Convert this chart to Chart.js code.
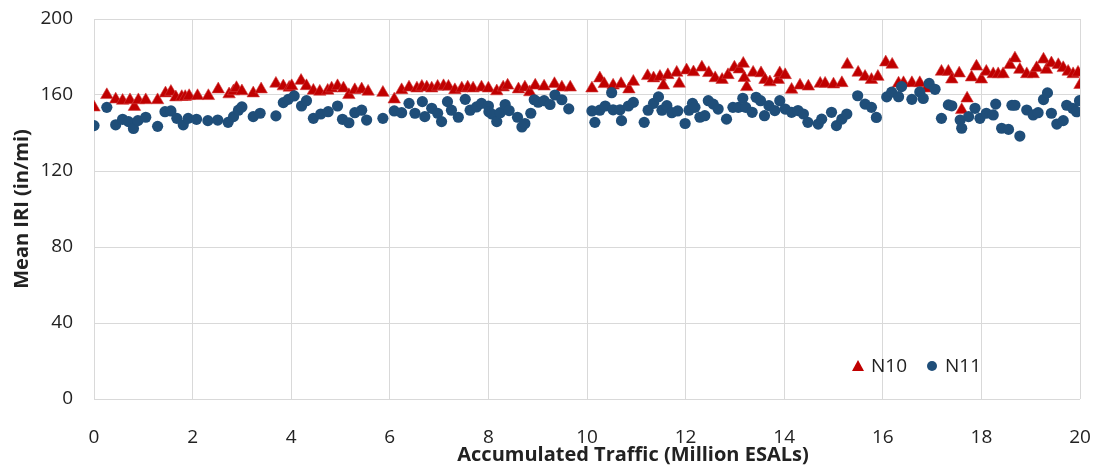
<!DOCTYPE html>
<html lang="en">
<head>
    <meta charset="UTF-8">
    <title>Mean IRI vs Accumulated Traffic</title>
    <script src="https://cdn.jsdelivr.net/npm/chart.js"></script>
    <style>
        body {
            margin: 0;
            background-color: white;
        }
        .chart-box {
            width: 1095px;
            height: 466px;
        }
    </style>
</head>
<body>
    <div class="chart-box">
        <canvas id="iriChart" width="1095" height="466"></canvas>
    </div>
    <script>
        // N10 section (triangles)
        const n10X = [0.00, 0.26, 0.44, 0.58, 0.73, 0.82, 0.90, 1.05, 1.29, 1.45, 1.56, 1.66, 1.78, 1.85, 1.93, 2.10, 2.32, 2.52, 2.74, 2.83, 2.89, 3.00, 3.23, 3.39, 3.69, 3.84, 3.96,
            4.01, 4.20, 4.31, 4.45, 4.58, 4.74, 4.82, 4.94, 5.06, 5.17, 5.29, 5.43, 5.56, 5.86, 6.09, 6.24, 6.39, 6.55, 6.65, 6.75, 6.85, 6.97, 7.09, 7.19, 7.32, 7.46, 7.58, 7.69, 7.86,
            8.00, 8.17, 8.30, 8.39, 8.61, 8.74, 8.84, 8.95, 9.13, 9.34, 9.49, 9.66, 10.10, 10.26, 10.35, 10.53, 10.69, 10.85, 10.94, 11.23, 11.35, 11.48, 11.55, 11.64, 11.82, 11.87,
            12.02, 12.16, 12.33, 12.47, 12.60, 12.74, 12.86, 12.99, 13.09, 13.17, 13.19, 13.24, 13.37, 13.53, 13.61, 13.71, 13.88, 13.91, 14.02, 14.15, 14.32, 14.49, 14.73, 14.83,
            15.00, 15.17, 15.28, 15.50, 15.64, 15.77, 15.90, 16.06, 16.19, 16.32, 16.42, 16.59, 16.75, 16.89, 17.19, 17.33, 17.40, 17.55, 17.60, 17.71, 17.80, 17.90,
            18.00, 18.10, 18.24, 18.34, 18.44, 18.58, 18.68, 18.78, 18.92, 19.05, 19.12, 19.26, 19.32, 19.42, 19.56, 19.66, 19.76, 19.86, 19.96, 20.00];
        const n10Y = [153.5, 160, 157.7, 157, 157.3, 153.8, 157.3, 157.3, 157.3, 160.9, 161.7, 158.8, 159, 159, 159.5, 159.5, 159.5, 163, 160.4, 162, 163.7, 162, 160.9, 163, 166, 164.6, 163.9,
            164.7, 167.5, 164.7, 162.3, 161.8, 162.3, 163.5, 164.7, 163.5, 160, 162.6, 163, 161.8, 161.2, 157.7, 162.6, 164, 163.5, 164.4, 164, 163.5, 164.4, 164.7, 164.4, 162.6, 163.5, 164, 163.5, 164,
            163.5, 162, 164, 165, 163, 164, 161.5, 165, 164.5, 165.8, 164, 164, 163.5, 168.8, 165.8, 165, 165.8, 163, 167, 170, 168.8, 169.6, 165, 170.5, 171.8, 166,
            173, 172, 174.5, 171.6, 168.9, 168, 170.5, 174.5, 173.5, 176.5, 169, 164.2, 171.8, 171.5, 168, 166.7, 168, 171.5, 170.5, 162.8, 165, 164.5, 166, 166,
            165.6, 166.3, 176, 171.8, 169.6, 168, 169.6, 177.2, 176, 166.1, 166.3, 166.3, 166.3, 163.5, 172.3, 172.3, 168.2, 171.4, 152.1, 158.2, 169.3, 175,
            168.2, 172.3, 171, 171, 171, 175.8, 179.3, 173.3, 171, 171, 174.2, 178.7, 173.3, 176.7, 175.8, 174.2, 172.3, 171, 171.8, 165.3];

        // N11 section (circles)
        const n11X = [0.00, 0.26, 0.44, 0.58, 0.70, 0.80, 0.89, 1.05, 1.29, 1.44, 1.56, 1.68, 1.81, 1.91, 2.08, 2.31, 2.51, 2.72, 2.83, 2.93, 3.00, 3.23, 3.37, 3.69, 3.84, 3.94,
            4.06, 4.21, 4.31, 4.45, 4.60, 4.75, 4.94, 5.04, 5.17, 5.29, 5.43, 5.53, 5.86, 6.09, 6.24, 6.39, 6.51, 6.66, 6.71, 6.85, 6.97, 7.05, 7.17, 7.25, 7.39, 7.53, 7.63, 7.76, 7.86,
            8.00, 8.01, 8.07, 8.17, 8.24, 8.34, 8.42, 8.59, 8.68, 8.74, 8.86, 8.93, 9.01, 9.13, 9.25, 9.35, 9.49, 9.63, 10.10, 10.16, 10.26, 10.37, 10.50, 10.53, 10.67, 10.70, 10.84, 10.94,
            11.16, 11.24, 11.35, 11.45, 11.52, 11.62, 11.72, 11.84, 11.99, 12.07, 12.14, 12.19, 12.29, 12.39, 12.46, 12.56, 12.66, 12.83, 12.96, 13.07, 13.16, 13.22, 13.35, 13.43, 13.52,
            13.60, 13.69, 13.81, 13.91, 14.02, 14.15, 14.28, 14.39, 14.48, 14.69, 14.76, 14.96, 15.06, 15.17, 15.27, 15.49, 15.64, 15.77, 15.87, 16.08, 16.18, 16.32, 16.38, 16.59,
            16.75, 16.82, 16.94, 17.06, 17.19, 17.33, 17.40, 17.57, 17.60, 17.74, 17.87, 17.97, 18.10, 18.24, 18.29, 18.41, 18.55, 18.62, 18.68, 18.78, 18.92, 19.05, 19.15, 19.26,
            19.34, 19.42, 19.53, 19.66, 19.73, 19.85, 19.93, 19.99];
        const n11Y = [143.9, 153.5, 144.3, 147.2, 146, 142.4, 146.5, 148.3, 143.5, 151.2, 151.6, 147.7, 144.3, 147.7, 147.2, 146.5, 146.8, 145.6, 148.6, 152, 153.7, 148.6, 150.4, 149, 156, 157.7,
            159.5, 154.2, 157, 147.7, 150, 151.2, 154.2, 147.2, 145.4, 150.7, 152, 146.8, 147.7, 151.6, 150.7, 155.6, 150.4, 156.5, 148.6, 153, 150.4, 146, 156.5, 152, 148.3, 157.7, 152, 153.7, 155.6,
            154.2, 151.2, 150, 146, 150.7, 155, 151.8, 148.3, 143.2, 145, 150.4, 157.5, 156.2, 157, 155, 160, 157.5, 152.7, 151.6, 145.6, 152, 154.2, 161.2, 152.2, 152.2, 146.5, 154.2, 156.1,
            145.6, 152, 155.6, 159, 152, 154.4, 150.7, 151.6, 145, 152, 155.6, 153.5, 148.3, 149.1, 157, 155.2, 152.6, 147.3, 153.5, 153.5, 158.3, 153.5, 150.9, 158.8, 157,
            149.1, 154.4, 151.8, 157, 152.6, 150.9, 151.8, 150, 145.6, 144.7, 147.3, 150.9, 143.9, 147.3, 150, 159.6, 155.2, 153.5, 148.2, 159, 161.5, 159.1, 164.4, 157.7,
            161.6, 158.2, 166.1, 163, 147.7, 154.8, 154.3, 146.8, 142.5, 148.6, 153, 147.7, 150.4, 149.5, 155.2, 142.5, 141.9, 154.6, 154.6, 138.4, 152.1, 149.5, 150.7, 157.6,
            161.1, 150.4, 144.7, 146.5, 154.6, 153, 151.2, 157];

        const xTicks = [0, 2, 4, 6, 8, 10, 12, 14, 16, 18, 20];
        const yTicks = [0, 40, 80, 120, 160, 200];
        const xTitle = 'Accumulated Traffic (Million ESALs)';
        const yTitle = 'Mean IRI (in/mi)';

        const red = '#C00000';
        const blue = '#1F4E79';
        const gridColor = '#D9D9D9';
        const tickFont = { family: 'Open Sans', size: 19 };
        const titleFont = { family: 'Open Sans', size: 20, weight: 'bold', lineHeight: 1.1 };

        function toPoints(xs, ys) {
            return xs.map((x, i) => ({ x: x, y: ys[i] }));
        }

        // legend inside the plot (lower right) + the x title, which sits a bit right of centre
        const extras = {
            id: 'extras',
            afterDraw(chart) {
                const ctx = chart.ctx;
                const area = chart.chartArea;
                ctx.save();
                ctx.textBaseline = 'middle';
                ctx.fillStyle = '#222';
                ctx.font = 'bold 20px "Open Sans"';
                ctx.textAlign = 'center';
                ctx.fillText(xTitle, (area.left + area.right) / 2 + 46, chart.height - 11);

                const y = area.bottom - 33;
                let x = area.right - 222;
                ctx.font = '19px "Open Sans"';
                ctx.textAlign = 'left';
                chart.data.datasets.slice().reverse().forEach(ds => {
                    ctx.fillStyle = ds.backgroundColor;
                    ctx.beginPath();
                    if (ds.pointStyle === 'triangle') {
                        ctx.moveTo(x, y - 6);
                        ctx.lineTo(x + 6, y + 5);
                        ctx.lineTo(x - 6, y + 5);
                        ctx.closePath();
                    } else {
                        ctx.arc(x, y, 5, 0, Math.PI * 2);
                    }
                    ctx.fill();
                    ctx.fillStyle = '#222';
                    ctx.fillText(ds.label, x + 13, y + 1);
                    x += 74;
                });
                ctx.restore();
            }
        };

        new Chart(document.getElementById('iriChart'), {
            type: 'scatter',
            data: {
                datasets: [{
                    label: 'N11',
                    data: toPoints(n11X, n11Y),
                    pointStyle: 'circle',
                    backgroundColor: blue,
                    borderColor: blue,
                    borderWidth: 0,
                    pointRadius: 5.6,
                    order: 0
                }, {
                    label: 'N10',
                    data: toPoints(n10X, n10Y),
                    pointStyle: 'triangle',
                    backgroundColor: red,
                    borderColor: '#D23A3A',
                    borderWidth: 0.6,
                    pointRadius: 7.2,
                    order: 1
                }]
            },
            options: {
                responsive: false,
                animation: false,
                layout: { padding: { top: 19, right: 15, left: 0, bottom: 0 } },
                plugins: {
                    legend: { display: false },
                    tooltip: { enabled: false }
                },
                scales: {
                    x: {
                        type: 'linear',
                        min: 0,
                        max: 20,
                        afterFit(scale) {
                            scale.height = 67;
                            scale.paddingLeft = 0;
                            scale.paddingRight = 0;
                        },
                        afterBuildTicks(scale) { scale.ticks = xTicks.map(v => ({ value: v })); },
                        grid: { color: gridColor, drawTicks: false },
                        border: { display: false },
                        ticks: { font: tickFont, color: '#222', padding: 27 },
                        title: { display: false }
                    },
                    y: {
                        type: 'linear',
                        min: 0,
                        max: 200,
                        afterFit(scale) {
                            scale.width = 94;
                            scale.paddingTop = 0;
                            scale.paddingBottom = 0;
                        },
                        afterBuildTicks(scale) { scale.ticks = yTicks.map(v => ({ value: v })); },
                        grid: { color: gridColor, drawTicks: false },
                        border: { display: false },
                        ticks: { font: tickFont, color: '#222', padding: 21 },
                        title: { display: true, text: yTitle, font: titleFont, color: '#222', padding: { top: 11, bottom: 0 } }
                    }
                }
            },
            plugins: [extras]
        });
    </script>
</body>
</html>
